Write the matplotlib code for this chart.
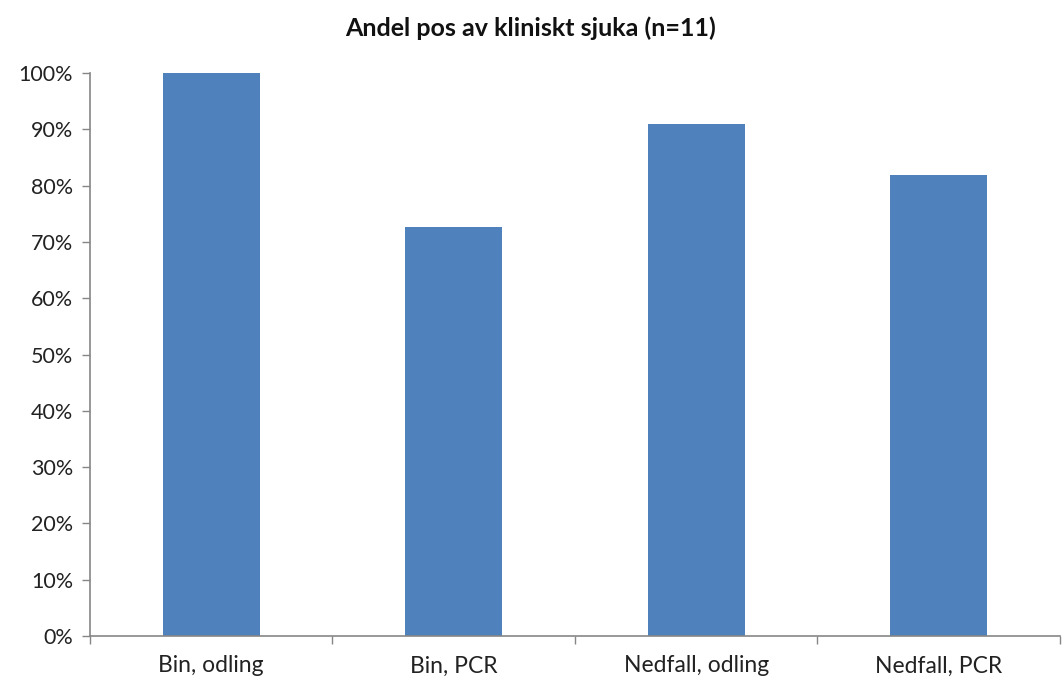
import numpy as np
import matplotlib.pyplot as plt
from matplotlib.ticker import PercentFormatter, FixedLocator

plt.rcParams['font.family'] = ['Lato', 'DejaVu Sans']

categories = ["Bin, odling", "Bin, PCR", "Nedfall, odling", "Nedfall, PCR"]
positives = [11, 8, 10, 9]
n_sick = 11
share = [p / n_sick for p in positives]

fig = plt.figure(figsize=(10.62, 6.82), dpi=100)
ax = fig.add_axes([0.0847, 0.0674, 0.9133, 0.8256])

x = np.arange(len(categories))
ax.bar(x, share, width=0.40, color="#4F81BD", zorder=2)

ax.set_xlim(-0.5, len(categories) - 0.5)
ax.set_ylim(0, 1.0)
ax.set_yticks(np.arange(0, 1.01, 0.1))
ax.yaxis.set_major_formatter(PercentFormatter(1.0, decimals=0))

# category labels sit between the tick marks, ticks on the boundaries
ax.set_xticks(x)
ax.set_xticklabels(categories)
ax.xaxis.set_minor_locator(FixedLocator(np.arange(-0.5, len(categories), 1.0)))
ax.tick_params(axis="x", which="major", length=0, pad=14, labelsize=16.5, labelcolor="#222222")
ax.tick_params(axis="x", which="minor", length=6, width=1, color="#868686", direction="out")
ax.tick_params(axis="y", length=6, width=1, color="#868686", direction="out",
               labelsize=15.5, labelcolor="#222222", pad=6)

for side in ["top", "right"]:
    ax.spines[side].set_visible(False)
for side in ["left", "bottom"]:
    ax.spines[side].set_color("#868686")
    ax.spines[side].set_linewidth(1.2)

fig.text(0.5, 0.958, f"Andel pos av kliniskt sjuka (n={n_sick})", ha="center", va="center",
         fontsize=18, fontweight="bold", color="#111111")

fig.savefig("out.png", dpi=100)
